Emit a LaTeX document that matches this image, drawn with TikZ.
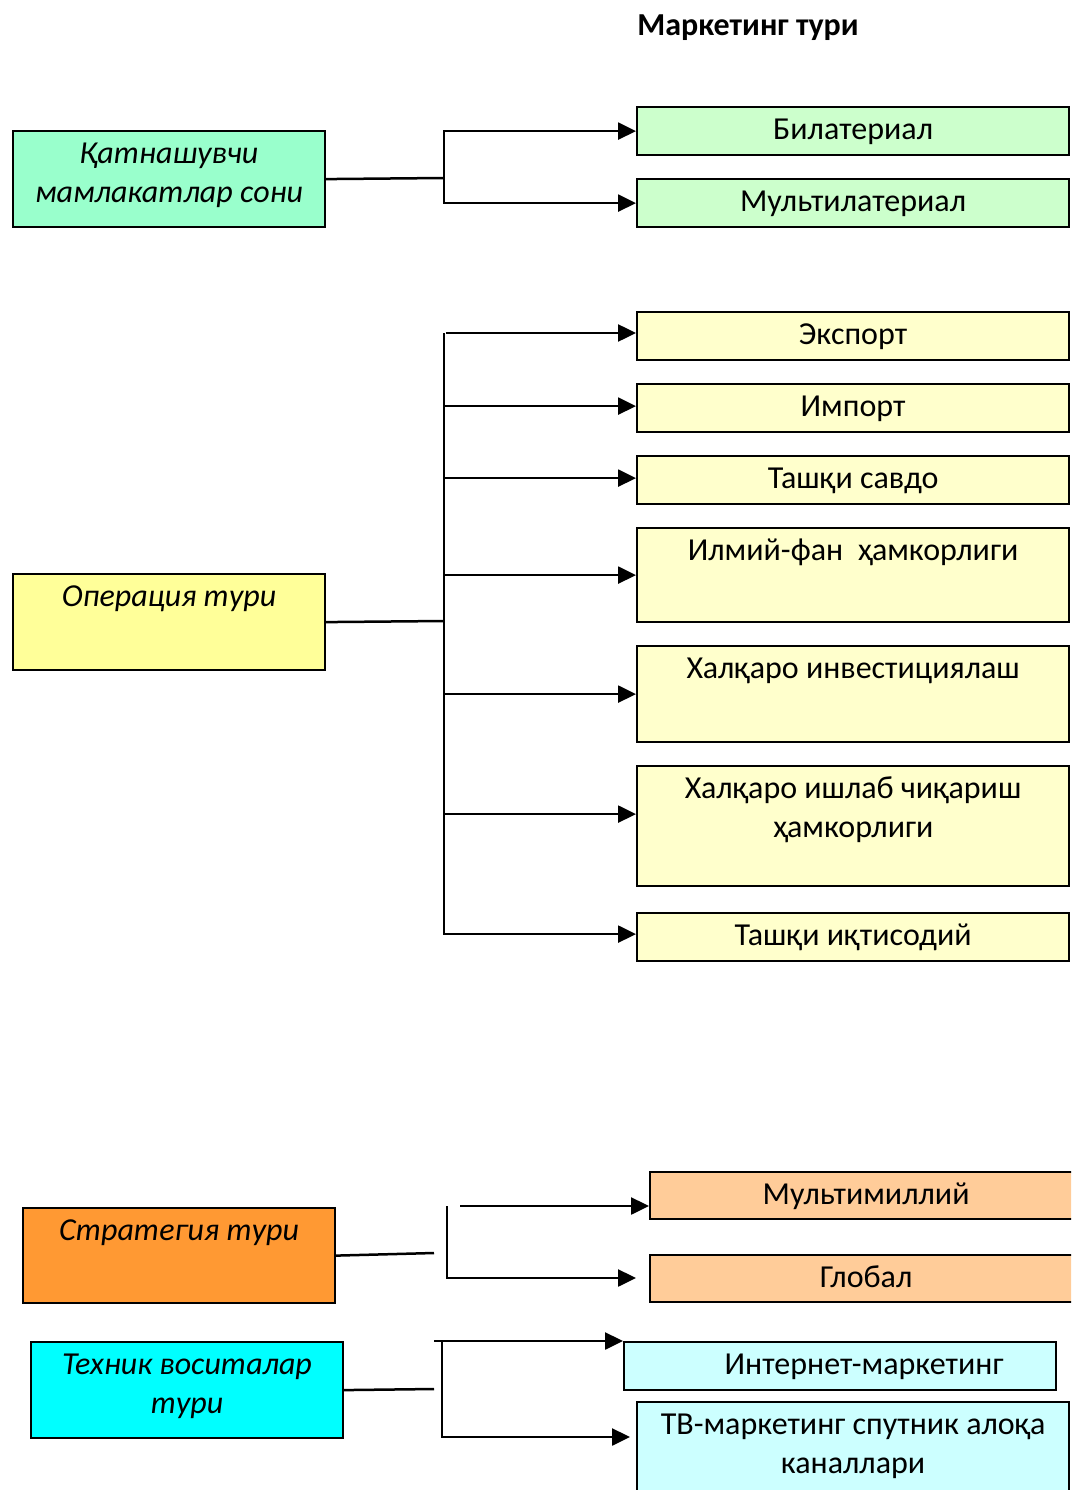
\documentclass[tikz,border=0pt]{standalone}
\usepackage{fontspec}
\setmainfont{Carlito}
\usetikzlibrary{arrows.meta}
\definecolor{mintL}{HTML}{99FFCC}
\definecolor{mintR}{HTML}{CCFFCC}
\definecolor{yelL}{HTML}{FFFF99}
\definecolor{yelR}{HTML}{FFFFCC}
\definecolor{orgL}{HTML}{FF9933}
\definecolor{orgR}{HTML}{FFCC99}
\definecolor{cynL}{HTML}{00FFFF}
\definecolor{cynR}{HTML}{CCFFFF}
\newcommand{\boxfont}{\fontsize{32}{39}\selectfont}
\tikzset{
  basebox/.style={draw=black, line width=2.2pt, inner sep=0pt, align=center,
    text height=32pt, anchor=north west, font=\boxfont},
  twoline/.style={text height=71pt},
  rbox/.style={basebox, minimum width=432pt},
  lbox/.style={basebox, minimum width=312pt, font=\boxfont\itshape},
  ln/.style={line width=2.5pt},
  arr/.style={line width=2.5pt, -{Triangle[length=18pt,width=17pt]}},
  ttl/.style={font=\fontsize{32}{38}\selectfont\bfseries, inner sep=0pt, anchor=base}
}
\begin{document}
\begin{tikzpicture}[x=1pt,y=-1pt]
\useasboundingbox (0,0) rectangle (1071,1490);
\clip (0,0) rectangle (1071,1490);

\node[ttl] (title) at (748,36) {Маркетинг тури};

% number of participating countries
\node[lbox, twoline, fill=mintL, text depth=25pt] (kat) at (12,130) {Қатнашувчи\\мамлакатлар сони};
\node[rbox, fill=mintR, text depth=16pt] (bil) at (636,106) {Билатериал};
\node[rbox, fill=mintR, text depth=16pt] (mul) at (636,178) {Мультилатериал};
\coordinate (k1) at (444,178);
\draw[ln] (kat.east) -- (k1);
\draw[arr] (k1) |- (bil.west);
\draw[arr] (k1) |- (mul.west);

% type of operation
\node[lbox, fill=yelL, text depth=64pt] (op) at (12,573) {Операция тури};
\node[rbox, fill=yelR, text depth=16pt] (exp) at (636,311) {Экспорт};
\node[rbox, fill=yelR, text depth=16pt] (imp) at (636,383) {Импорт};
\node[rbox, fill=yelR, text depth=16pt] (sav) at (636,455) {Ташқи савдо};
\node[rbox, fill=yelR, text depth=62pt] (ilm) at (636,527) {Илмий-фан\ \ ҳамкорлиги};
\node[rbox, fill=yelR, text depth=64pt] (inv) at (636,645) {Халқаро инвестициялаш};
\node[rbox, twoline, fill=yelR, text depth=49pt] (ish) at (636,765) {Халқаро ишлаб чиқариш\\ҳамкорлиги};
\node[rbox, fill=yelR, text depth=16pt] (iqt) at (636,912) {Ташқи иқтисодий};
\coordinate (k2) at (444,621);
\coordinate (k2t) at (444,333);
\coordinate (a1) at (446,333);
\draw[ln] (op.east) -- (k2);
\draw[ln] (k2t) -- (k2);
\draw[arr] (a1) -- (a1 -| exp.west);
\draw[arr] (k2) |- ([yshift=2pt]imp.west);
\draw[arr] (k2) |- ([yshift=2pt]sav.west);
\draw[arr] (k2) |- (ilm.west);
\draw[arr] (k2) |- (inv.west);
\draw[arr] (k2) |- ([yshift=12pt]ish.west);
\draw[arr] (k2) |- ([yshift=3pt]iqt.west);

% type of strategy
\node[lbox, fill=orgL, text depth=63pt] (str) at (22,1207) {Стратегия тури};
\node[rbox, fill=orgR, text depth=15pt] (mlt) at (649,1171) {Мультимиллий};
\node[rbox, fill=orgR, text depth=15pt] (glo) at (649,1254) {Глобал};
\coordinate (s1) at (434,1253);
\coordinate (s2) at (447,1206);
\coordinate (s3) at (460,1206);
\coordinate (s4) at (636,1278);
\draw[ln] (str.east) -- (s1);
\draw[arr] (s3) -- (s3 -| mlt.west);
\draw[arr] (s2) |- (s4);

% type of technical means
\node[lbox, twoline, fill=cynL, text depth=25pt] (tex) at (30,1341) {Техник воситалар\\тури};
\node[rbox, fill=cynR, text depth=16pt, text width=432pt] (inet) at (623,1341) {\hspace*{48pt}Интернет-маркетинг};
\node[rbox, twoline, fill=cynR, text depth=29pt] (tv) at (636,1401) {ТВ-маркетинг спутник алоқа\\каналлари};
\coordinate (t1) at (434,1389);
\coordinate (t2) at (434,1341);
\coordinate (t3) at (442,1341);
\coordinate (t4) at (630,1437);
\draw[ln] (tex.east) -- (t1);
\draw[arr] (t2) -- (inet.north west);
\draw[arr] (t3) |- (t4);
\end{tikzpicture}
\end{document}
